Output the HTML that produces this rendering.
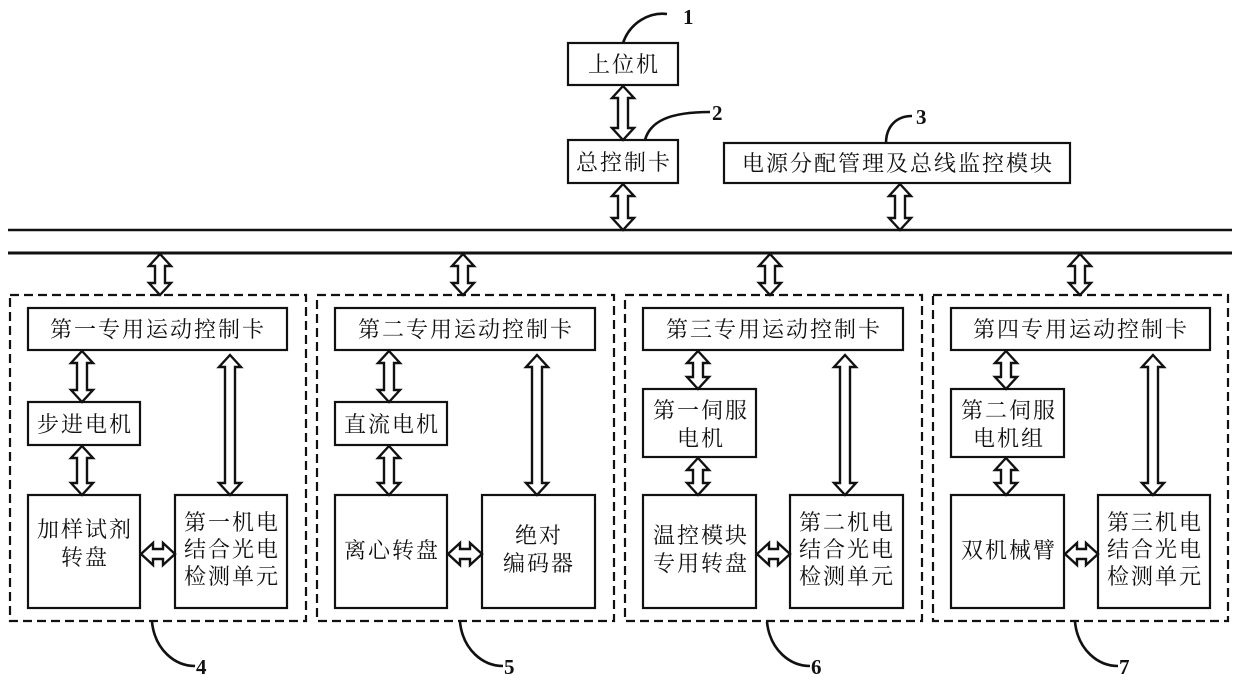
<!DOCTYPE html>
<html><head><meta charset="utf-8"><style>
html,body{margin:0;padding:0;background:#fff}
svg{display:block}
text{font-family:"Liberation Serif","Noto Serif CJK SC","Noto Sans CJK SC",serif;font-size:22px;letter-spacing:2px;fill:#111}
.n{font-family:"Liberation Serif",serif;font-weight:bold;font-size:21px;letter-spacing:0}
</style></head><body>
<svg width="1240" height="684" viewBox="0 0 1240 684" xmlns="http://www.w3.org/2000/svg">
<g fill="none" stroke="#111" stroke-width="2.2">
<rect x="568" y="43" width="110" height="42"/>
<rect x="568" y="140" width="110" height="43"/>
<rect x="724" y="143" width="346" height="40"/>
<line x1="8" y1="230" x2="1232" y2="230" stroke-width="2.5"/>
<line x1="8" y1="253" x2="1232" y2="253" stroke-width="3"/>
<g stroke-dasharray="9,5">
<rect x="10" y="295" width="296" height="326"/>
<rect x="317" y="295" width="297" height="326"/>
<rect x="625" y="295" width="297" height="326"/>
<rect x="933" y="295" width="295" height="326"/>
</g>
<rect x="28" y="308" width="259" height="42"/>
<rect x="28" y="402" width="112" height="43"/>
<rect x="28" y="495" width="112" height="113"/>
<rect x="175" y="495" width="112" height="113"/>
<rect x="335" y="308" width="260" height="42"/>
<rect x="335" y="402" width="112" height="43"/>
<rect x="335" y="495" width="112" height="113"/>
<rect x="482" y="495" width="113" height="113"/>
<rect x="643" y="308" width="260" height="42"/>
<rect x="643" y="389" width="113" height="68"/>
<rect x="643" y="495" width="113" height="113"/>
<rect x="790" y="495" width="113" height="113"/>
<rect x="951" y="308" width="259" height="42"/>
<rect x="951" y="389" width="113" height="68"/>
<rect x="951" y="495" width="113" height="113"/>
<rect x="1098" y="495" width="112" height="113"/>
<g stroke-width="2.6">
<path d="M623 43 C630 22 650 12 667 14"/>
<path d="M645 140 C650 122 668 112 710 112"/>
<path d="M886 143 C886 128 895 116 912 116"/>
<path d="M152 622 C155 650 175 666 195 666"/>
<path d="M460 622 C463 650 483 666 503 666"/>
<path d="M767 622 C770 650 790 666 810 666"/>
<path d="M1075 622 C1078 650 1098 666 1118 666"/>
</g>
</g>
<g fill="#fff" stroke="#111" stroke-width="2.4" stroke-linejoin="miter">
<polygon points="623,86 634,98 628,98 628,128 634,128 623,140 612,128 618,128 618,98 612,98"/>
<polygon points="623,184 634,196 628,196 628,218 634,218 623,230 612,218 618,218 618,196 612,196"/>
<polygon points="900,184 911,196 905,196 905,218 911,218 900,230 889,218 895,218 895,196 889,196"/>
<polygon points="160,254 171,266 165,266 165,283 171,283 160,295 149,283 155,283 155,266 149,266"/>
<polygon points="463,254 474,266 468,266 468,283 474,283 463,295 452,283 458,283 458,266 452,266"/>
<polygon points="770,254 781,266 775,266 775,283 781,283 770,295 759,283 765,283 765,266 759,266"/>
<polygon points="1080,254 1091,266 1085,266 1085,283 1091,283 1080,295 1069,283 1075,283 1075,266 1069,266"/>
<polygon points="82,351 93,363 87,363 87,390 93,390 82,402 71,390 77,390 77,363 71,363"/>
<polygon points="82,446 93,458 87,458 87,483 93,483 82,495 71,483 77,483 77,458 71,458"/>
<polygon points="230,355 241,367 235,367 235,483 241,483 230,495 219,483 225,483 225,367 219,367"/>
<polygon points="141,554 153,543 153,549 163,549 163,543 175,554 163,565 163,559 153,559 153,565"/>
<polygon points="389,351 400,363 394,363 394,390 400,390 389,402 378,390 384,390 384,363 378,363"/>
<polygon points="389,446 400,458 394,458 394,483 400,483 389,495 378,483 384,483 384,458 378,458"/>
<polygon points="537,355 548,367 542,367 542,483 548,483 537,495 526,483 532,483 532,367 526,367"/>
<polygon points="448,554 460,543 460,549 470,549 470,543 482,554 470,565 470,559 460,559 460,565"/>
<polygon points="698,351 709,363 703,363 703,377 709,377 698,389 687,377 693,377 693,363 687,363"/>
<polygon points="698,458 709,470 703,470 703,483 709,483 698,495 687,483 693,483 693,470 687,470"/>
<polygon points="845,355 856,367 850,367 850,483 856,483 845,495 834,483 840,483 840,367 834,367"/>
<polygon points="757,554 769,543 769,549 778,549 778,543 790,554 778,565 778,559 769,559 769,565"/>
<polygon points="1006,351 1017,363 1011,363 1011,377 1017,377 1006,389 995,377 1001,377 1001,363 995,363"/>
<polygon points="1006,458 1017,470 1011,470 1011,483 1017,483 1006,495 995,483 1001,483 1001,470 995,470"/>
<polygon points="1153,355 1164,367 1158,367 1158,483 1164,483 1153,495 1142,483 1148,483 1148,367 1142,367"/>
<polygon points="1065,554 1077,543 1077,549 1086,549 1086,543 1098,554 1086,565 1086,559 1077,559 1077,565"/>
</g>
<g text-anchor="middle">
<text x="624" y="72">上位机</text>
<text x="624" y="170">总控制卡</text>
<text x="898" y="171">电源分配管理及总线监控模块</text>
<text x="158" y="337">第一专用运动控制卡</text>
<text x="85" y="432">步进电机</text>
<text x="85" y="537">加样试剂</text>
<text x="85" y="565">转盘</text>
<text x="232" y="530">第一机电</text>
<text x="232" y="557">结合光电</text>
<text x="232" y="584">检测单元</text>
<text x="466" y="337">第二专用运动控制卡</text>
<text x="392" y="432">直流电机</text>
<text x="392" y="558">离心转盘</text>
<text x="539" y="543">绝对</text>
<text x="539" y="571">编码器</text>
<text x="774" y="337">第三专用运动控制卡</text>
<text x="701" y="418">第一伺服</text>
<text x="701" y="446">电机</text>
<text x="701" y="543">温控模块</text>
<text x="701" y="571">专用转盘</text>
<text x="847" y="530">第二机电</text>
<text x="847" y="557">结合光电</text>
<text x="847" y="584">检测单元</text>
<text x="1081" y="337">第四专用运动控制卡</text>
<text x="1009" y="418">第二伺服</text>
<text x="1009" y="446">电机组</text>
<text x="1009" y="558">双机械臂</text>
<text x="1155" y="530">第三机电</text>
<text x="1155" y="557">结合光电</text>
<text x="1155" y="584">检测单元</text>
</g>
<text class="n" x="683" y="24">1</text>
<text class="n" x="712" y="120">2</text>
<text class="n" x="916" y="124">3</text>
<text class="n" x="196" y="674">4</text>
<text class="n" x="504" y="674">5</text>
<text class="n" x="811" y="674">6</text>
<text class="n" x="1119" y="674">7</text>
</svg>
</body></html>
